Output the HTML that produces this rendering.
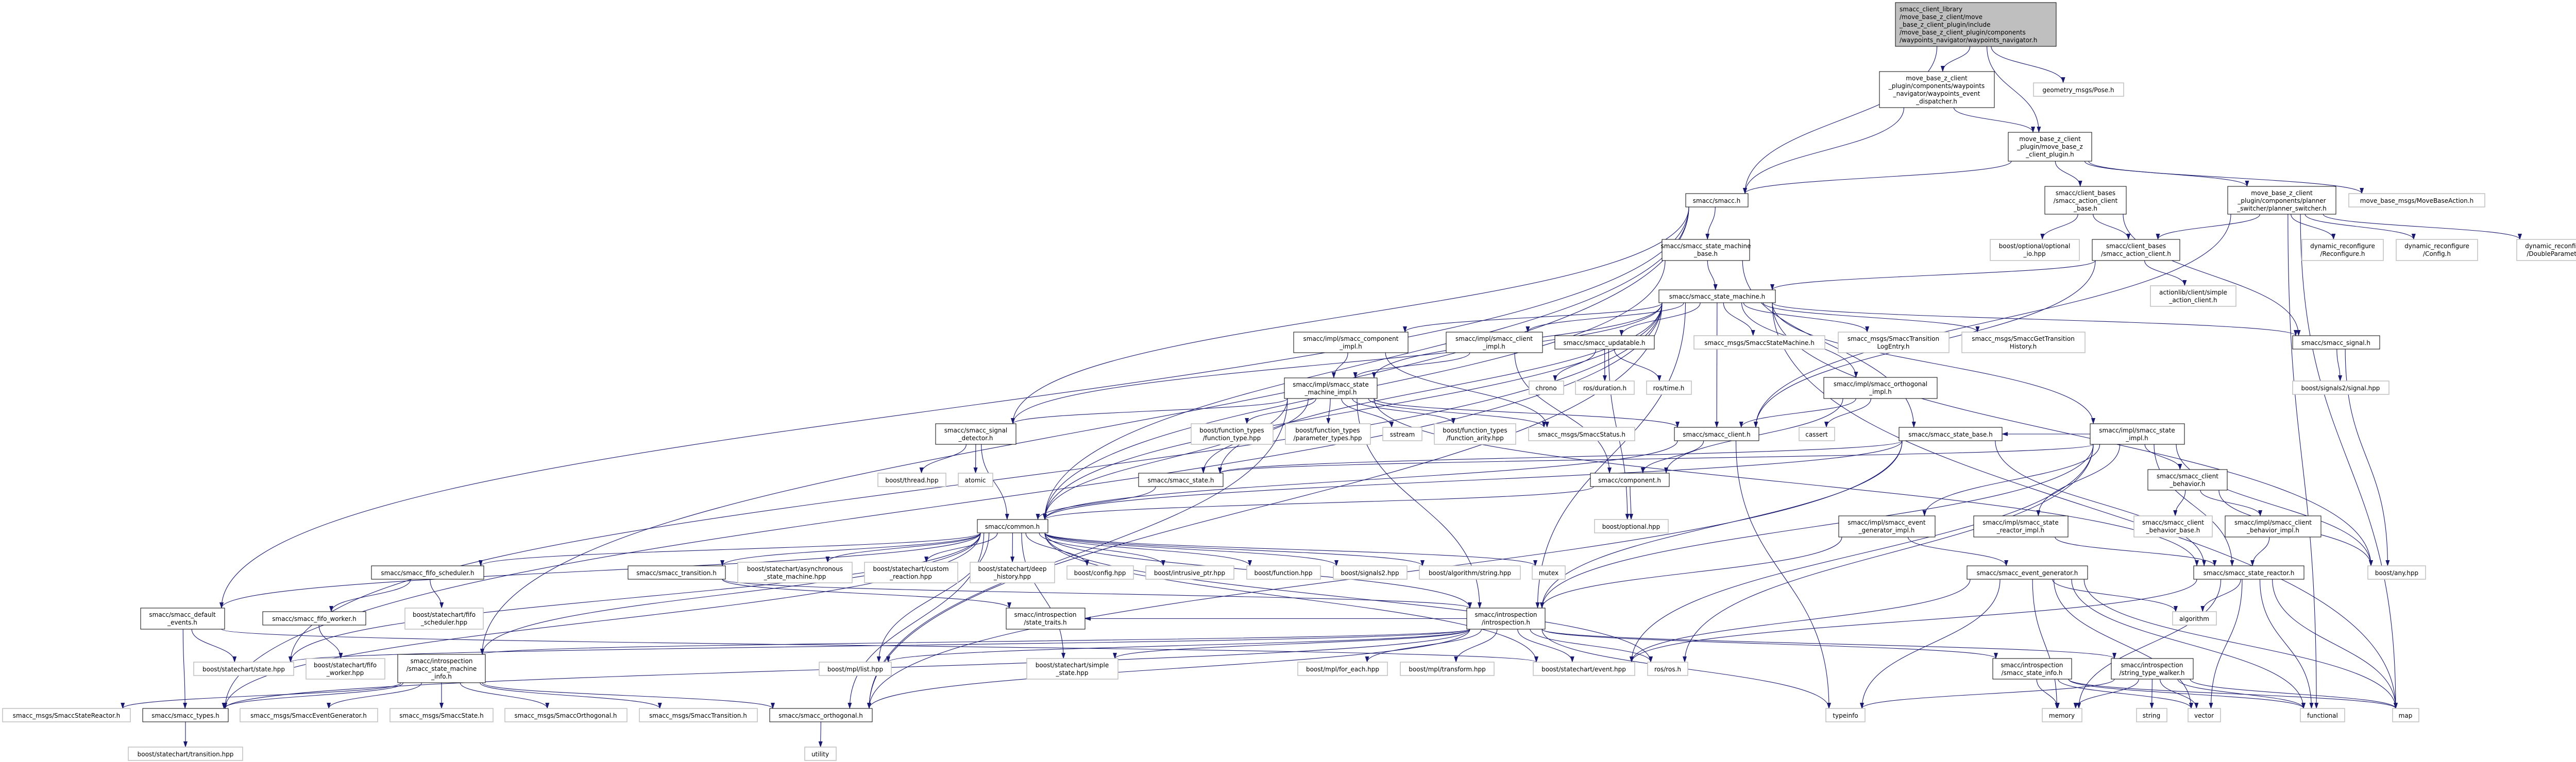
<!DOCTYPE html>
<html><head><meta charset="utf-8">
<style>
html,body{margin:0;padding:0;background:#fff;}
svg{display:block;}
text{font-family:"DejaVu Sans","Liberation Sans",sans-serif;font-size:12px;fill:#000;text-anchor:middle;}
rect.d{fill:#fff;stroke:#000;stroke-width:1;}
rect.g{fill:#fff;stroke:#bfbfbf;stroke-width:1.5;}
rect.r{fill:#bfbfbf;stroke:#000;stroke-width:1;}
path.e{fill:none;stroke:#191970;stroke-width:1.1;}
</style></head><body>
<svg id="s" width="5049" height="1480" viewBox="0 0 5049 1480" xmlns="http://www.w3.org/2000/svg">
<defs><marker id="a" markerWidth="12" markerHeight="8" refX="11" refY="4" orient="auto" markerUnits="userSpaceOnUse"><path d="M0,0 L12,4 L0,8 z" fill="#191970"/></marker></defs>
<g id="edges"></g>
<g id="nodes">
<g id="root"><rect class="r" x="3679" y="5" width="312" height="85"/><text style="text-anchor:start" x="3687" y="22">smacc_client_library</text><text style="text-anchor:start" x="3687" y="37">/move_base_z_client/move</text><text style="text-anchor:start" x="3687" y="52">_base_z_client_plugin/include</text><text style="text-anchor:start" x="3687" y="67">/move_base_z_client_plugin/components</text><text style="text-anchor:start" x="3687" y="82">/waypoints_navigator/waypoints_navigator.h</text></g>
<g id="wed"><rect class="d" x="3648" y="139" width="223" height="70"/><text x="3759" y="156">move_base_z_client</text><text x="3759" y="171">_plugin/components/waypoints</text><text x="3759" y="186">_navigator/waypoints_event</text><text x="3759" y="201">_dispatcher.h</text></g>
<g id="pose"><rect class="g" x="3947" y="161" width="175" height="26"/><text x="4034" y="179">geometry_msgs/Pose.h</text></g>
<g id="plugin"><rect class="d" x="3898" y="257" width="162" height="56"/><text x="3979" y="274">move_base_z_client</text><text x="3979" y="289">_plugin/move_base_z</text><text x="3979" y="304">_client_plugin.h</text></g>
<g id="smacc"><rect class="d" x="3272" y="376" width="121" height="26"/><text x="3332" y="394">smacc/smacc.h</text></g>
<g id="acb"><rect class="d" x="3969" y="362" width="158" height="54"/><text x="4048" y="379">smacc/client_bases</text><text x="4048" y="394">/smacc_action_client</text><text x="4048" y="409">_base.h</text></g>
<g id="ps"><rect class="d" x="4324" y="362" width="210" height="54"/><text x="4429" y="379">move_base_z_client</text><text x="4429" y="394">_plugin/components/planner</text><text x="4429" y="409">_switcher/planner_switcher.h</text></g>
<g id="mba"><rect class="g" x="4559" y="376" width="264" height="26"/><text x="4691" y="394">move_base_msgs/MoveBaseAction.h</text></g>
<g id="smb"><rect class="d" x="3226" y="465" width="170" height="41"/><text x="3311" y="482">smacc/smacc_state_machine</text><text x="3311" y="497">_base.h</text></g>
<g id="oio"><rect class="g" x="3863" y="465" width="173" height="41"/><text x="3949" y="482">boost/optional/optional</text><text x="3949" y="497">_io.hpp</text></g>
<g id="ac"><rect class="d" x="4061" y="465" width="170" height="41"/><text x="4146" y="482">smacc/client_bases</text><text x="4146" y="497">/smacc_action_client.h</text></g>
<g id="rec"><rect class="g" x="4468" y="465" width="158" height="41"/><text x="4547" y="482">dynamic_reconfigure</text><text x="4547" y="497">/Reconfigure.h</text></g>
<g id="cfg"><rect class="g" x="4651" y="465" width="158" height="41"/><text x="4730" y="482">dynamic_reconfigure</text><text x="4730" y="497">/Config.h</text></g>
<g id="dbl"><rect class="g" x="4885" y="465" width="159" height="41"/><text x="4964" y="482">dynamic_reconfigure</text><text x="4964" y="497">/DoubleParameter.h</text></g>
<g id="sm"><rect class="d" x="3220" y="563" width="226" height="25"/><text x="3333" y="580">smacc/smacc_state_machine.h</text></g>
<g id="sal"><rect class="g" x="4174" y="555" width="166" height="40"/><text x="4257" y="572">actionlib/client/simple</text><text x="4257" y="587">_action_client.h</text></g>
<g id="cimp"><rect class="d" x="2511" y="645" width="222" height="40"/><text x="2622" y="662">smacc/impl/smacc_component</text><text x="2622" y="677">_impl.h</text></g>
<g id="climp"><rect class="d" x="2807" y="645" width="187" height="40"/><text x="2900" y="662">smacc/impl/smacc_client</text><text x="2900" y="677">_impl.h</text></g>
<g id="upd"><rect class="d" x="3018" y="652" width="193" height="26"/><text x="3114" y="670">smacc/smacc_updatable.h</text></g>
<g id="ssm"><rect class="g" x="3288" y="652" width="254" height="26"/><text x="3415" y="670">smacc_msgs/SmaccStateMachine.h</text></g>
<g id="tle"><rect class="g" x="3568" y="645" width="215" height="40"/><text x="3675" y="662">smacc_msgs/SmaccTransition</text><text x="3675" y="677">LogEntry.h</text></g>
<g id="gth"><rect class="g" x="3808" y="645" width="239" height="40"/><text x="3927" y="662">smacc_msgs/SmaccGetTransition</text><text x="3927" y="677">History.h</text></g>
<g id="sig"><rect class="d" x="4450" y="652" width="169" height="26"/><text x="4534" y="670">smacc/smacc_signal.h</text></g>
<g id="smi"><rect class="d" x="2493" y="734" width="180" height="40"/><text x="2583" y="751">smacc/impl/smacc_state</text><text x="2583" y="766">_machine_impl.h</text></g>
<g id="chrono"><rect class="g" x="2968" y="740" width="67" height="26"/><text x="3001" y="758">chrono</text></g>
<g id="dur"><rect class="g" x="3058" y="740" width="114" height="26"/><text x="3115" y="758">ros/duration.h</text></g>
<g id="time"><rect class="g" x="3196" y="740" width="87" height="26"/><text x="3239" y="758">ros/time.h</text></g>
<g id="oimp"><rect class="d" x="3540" y="733" width="220" height="41"/><text x="3650" y="750">smacc/impl/smacc_orthogonal</text><text x="3650" y="765">_impl.h</text></g>
<g id="s2"><rect class="g" x="4450" y="740" width="187" height="26"/><text x="4543" y="758">boost/signals2/signal.hpp</text></g>
<g id="sd"><rect class="d" x="1816" y="823" width="156" height="40"/><text x="1894" y="840">smacc/smacc_signal</text><text x="1894" y="855">_detector.h</text></g>
<g id="ft"><rect class="g" x="2312" y="823" width="159" height="40"/><text x="2391" y="840">boost/function_types</text><text x="2391" y="855">/function_type.hpp</text></g>
<g id="pt"><rect class="g" x="2495" y="823" width="165" height="40"/><text x="2577" y="840">boost/function_types</text><text x="2577" y="855">/parameter_types.hpp</text></g>
<g id="sst"><rect class="g" x="2684" y="830" width="76" height="26"/><text x="2722" y="848">sstream</text></g>
<g id="fa"><rect class="g" x="2784" y="823" width="158" height="40"/><text x="2863" y="840">boost/function_types</text><text x="2863" y="855">/function_arity.hpp</text></g>
<g id="ss"><rect class="g" x="2967" y="830" width="206" height="26"/><text x="3070" y="848">smacc_msgs/SmaccStatus.h</text></g>
<g id="cl"><rect class="d" x="3250" y="830" width="164" height="26"/><text x="3332" y="848">smacc/smacc_client.h</text></g>
<g id="cas"><rect class="g" x="3492" y="830" width="69" height="26"/><text x="3526" y="848">cassert</text></g>
<g id="sb"><rect class="d" x="3686" y="830" width="200" height="26"/><text x="3786" y="848">smacc/smacc_state_base.h</text></g>
<g id="simp"><rect class="d" x="4057" y="823" width="183" height="40"/><text x="4148" y="840">smacc/impl/smacc_state</text><text x="4148" y="855">_impl.h</text></g>
<g id="thr"><rect class="g" x="1704" y="919" width="132" height="26"/><text x="1770" y="937">boost/thread.hpp</text></g>
<g id="atm"><rect class="g" x="1860" y="919" width="67" height="26"/><text x="1893" y="937">atomic</text></g>
<g id="st"><rect class="d" x="2210" y="919" width="164" height="26"/><text x="2292" y="937">smacc/smacc_state.h</text></g>
<g id="comp"><rect class="d" x="3087" y="919" width="153" height="26"/><text x="3163" y="937">smacc/component.h</text></g>
<g id="cb"><rect class="d" x="4169" y="912" width="154" height="40"/><text x="4246" y="929">smacc/smacc_client</text><text x="4246" y="944">_behavior.h</text></g>
<g id="common"><rect class="d" x="1897" y="1009" width="137" height="26"/><text x="1965" y="1027">smacc/common.h</text></g>
<g id="opt"><rect class="g" x="3095" y="1009" width="143" height="26"/><text x="3166" y="1027">boost/optional.hpp</text></g>
<g id="egi"><rect class="d" x="3569" y="1002" width="187" height="41"/><text x="3662" y="1019">smacc/impl/smacc_event</text><text x="3662" y="1034">_generator_impl.h</text></g>
<g id="sri"><rect class="d" x="3831" y="1002" width="183" height="41"/><text x="3922" y="1019">smacc/impl/smacc_state</text><text x="3922" y="1034">_reactor_impl.h</text></g>
<g id="cbb"><rect class="g" x="4142" y="1002" width="152" height="41"/><text x="4218" y="1019">smacc/smacc_client</text><text x="4218" y="1034">_behavior_base.h</text></g>
<g id="cbi"><rect class="d" x="4319" y="1002" width="186" height="41"/><text x="4412" y="1019">smacc/impl/smacc_client</text><text x="4412" y="1034">_behavior_impl.h</text></g>
<g id="fs"><rect class="d" x="721" y="1099" width="218" height="26"/><text x="830" y="1117">smacc/smacc_fifo_scheduler.h</text></g>
<g id="tr"><rect class="d" x="1219" y="1099" width="189" height="26"/><text x="1313" y="1117">smacc/smacc_transition.h</text></g>
<g id="asm"><rect class="g" x="1432" y="1092" width="222" height="40"/><text x="1543" y="1109">boost/statechart/asynchronous</text><text x="1543" y="1124">_state_machine.hpp</text></g>
<g id="cr"><rect class="g" x="1678" y="1092" width="181" height="40"/><text x="1768" y="1109">boost/statechart/custom</text><text x="1768" y="1124">_reaction.hpp</text></g>
<g id="dh"><rect class="g" x="1883" y="1092" width="164" height="40"/><text x="1965" y="1109">boost/statechart/deep</text><text x="1965" y="1124">_history.hpp</text></g>
<g id="cfgh"><rect class="g" x="2071" y="1099" width="129" height="26"/><text x="2135" y="1117">boost/config.hpp</text></g>
<g id="ip"><rect class="g" x="2224" y="1099" width="171" height="26"/><text x="2309" y="1117">boost/intrusive_ptr.hpp</text></g>
<g id="fn"><rect class="g" x="2420" y="1099" width="143" height="26"/><text x="2491" y="1117">boost/function.hpp</text></g>
<g id="s2h"><rect class="g" x="2588" y="1099" width="143" height="26"/><text x="2659" y="1117">boost/signals2.hpp</text></g>
<g id="as"><rect class="g" x="2755" y="1099" width="196" height="26"/><text x="2853" y="1117">boost/algorithm/string.hpp</text></g>
<g id="mtx"><rect class="g" x="2974" y="1099" width="64" height="26"/><text x="3006" y="1117">mutex</text></g>
<g id="eg"><rect class="d" x="3818" y="1099" width="234" height="26"/><text x="3935" y="1117">smacc/smacc_event_generator.h</text></g>
<g id="sr"><rect class="d" x="4258" y="1099" width="214" height="26"/><text x="4365" y="1117">smacc/smacc_state_reactor.h</text></g>
<g id="any"><rect class="g" x="4596" y="1099" width="112" height="26"/><text x="4652" y="1117">boost/any.hpp</text></g>
<g id="de"><rect class="d" x="273" y="1181" width="163" height="41"/><text x="354" y="1198">smacc/smacc_default</text><text x="354" y="1213">_events.h</text></g>
<g id="fw"><rect class="d" x="510" y="1188" width="200" height="26"/><text x="610" y="1206">smacc/smacc_fifo_worker.h</text></g>
<g id="fsh"><rect class="g" x="786" y="1181" width="152" height="41"/><text x="862" y="1198">boost/statechart/fifo</text><text x="862" y="1213">_scheduler.hpp</text></g>
<g id="stt"><rect class="d" x="1953" y="1181" width="153" height="41"/><text x="2029" y="1198">smacc/introspection</text><text x="2029" y="1213">/state_traits.h</text></g>
<g id="intro"><rect class="d" x="2847" y="1181" width="152" height="41"/><text x="2923" y="1198">smacc/introspection</text><text x="2923" y="1213">/introspection.h</text></g>
<g id="alg"><rect class="g" x="4217" y="1188" width="85" height="26"/><text x="4259" y="1206">algorithm</text></g>
<g id="sth"><rect class="g" x="376" y="1286" width="194" height="26"/><text x="473" y="1304">boost/statechart/state.hpp</text></g>
<g id="fwh"><rect class="g" x="594" y="1279" width="153" height="40"/><text x="670" y="1296">boost/statechart/fifo</text><text x="670" y="1311">_worker.hpp</text></g>
<g id="smin"><rect class="d" x="772" y="1271" width="170" height="55"/><text x="857" y="1288">smacc/introspection</text><text x="857" y="1303">/smacc_state_machine</text><text x="857" y="1318">_info.h</text></g>
<g id="lst"><rect class="g" x="1590" y="1286" width="140" height="26"/><text x="1660" y="1304">boost/mpl/list.hpp</text></g>
<g id="simple"><rect class="g" x="1993" y="1279" width="177" height="40"/><text x="2081" y="1296">boost/statechart/simple</text><text x="2081" y="1311">_state.hpp</text></g>
<g id="fe"><rect class="g" x="2519" y="1286" width="174" height="26"/><text x="2606" y="1304">boost/mpl/for_each.hpp</text></g>
<g id="tf"><rect class="g" x="2718" y="1286" width="182" height="26"/><text x="2809" y="1304">boost/mpl/transform.hpp</text></g>
<g id="ev"><rect class="g" x="2976" y="1286" width="197" height="26"/><text x="3074" y="1304">boost/statechart/event.hpp</text></g>
<g id="ros"><rect class="g" x="3198" y="1286" width="78" height="26"/><text x="3237" y="1304">ros/ros.h</text></g>
<g id="si"><rect class="d" x="3868" y="1279" width="153" height="40"/><text x="3944" y="1296">smacc/introspection</text><text x="3944" y="1311">/smacc_state_info.h</text></g>
<g id="stw"><rect class="d" x="4098" y="1279" width="159" height="40"/><text x="4177" y="1296">smacc/introspection</text><text x="4177" y="1311">/string_type_walker.h</text></g>
<g id="ssr"><rect class="g" x="5" y="1376" width="248" height="26"/><text x="129" y="1394">smacc_msgs/SmaccStateReactor.h</text></g>
<g id="ty"><rect class="d" x="277" y="1376" width="166" height="26"/><text x="360" y="1394">smacc/smacc_types.h</text></g>
<g id="seg"><rect class="g" x="466" y="1376" width="267" height="26"/><text x="599" y="1394">smacc_msgs/SmaccEventGenerator.h</text></g>
<g id="sst2"><rect class="g" x="757" y="1376" width="200" height="26"/><text x="857" y="1394">smacc_msgs/SmaccState.h</text></g>
<g id="sor"><rect class="g" x="980" y="1376" width="237" height="26"/><text x="1098" y="1394">smacc_msgs/SmaccOrthogonal.h</text></g>
<g id="strn"><rect class="g" x="1241" y="1376" width="229" height="26"/><text x="1355" y="1394">smacc_msgs/SmaccTransition.h</text></g>
<g id="orth"><rect class="d" x="1494" y="1376" width="199" height="26"/><text x="1593" y="1394">smacc/smacc_orthogonal.h</text></g>
<g id="ti"><rect class="g" x="3544" y="1376" width="76" height="26"/><text x="3582" y="1394">typeinfo</text></g>
<g id="mem"><rect class="g" x="3964" y="1376" width="77" height="26"/><text x="4002" y="1394">memory</text></g>
<g id="str"><rect class="g" x="4147" y="1376" width="59" height="26"/><text x="4176" y="1394">string</text></g>
<g id="vec"><rect class="g" x="4247" y="1376" width="63" height="26"/><text x="4278" y="1394">vector</text></g>
<g id="fun"><rect class="g" x="4465" y="1376" width="86" height="26"/><text x="4508" y="1394">functional</text></g>
<g id="map"><rect class="g" x="4644" y="1376" width="51" height="26"/><text x="4669" y="1394">map</text></g>
<g id="trh"><rect class="g" x="249" y="1451" width="222" height="26"/><text x="360" y="1469">boost/statechart/transition.hpp</text></g>
<g id="util"><rect class="g" x="1562" y="1451" width="61" height="26"/><text x="1592" y="1469">utility</text></g>
</g>
</svg>
<script>
(function(){
var E="root>wed root>pose root>plugin root>smacc wed>plugin wed>smacc plugin>smacc plugin>acb plugin>ps plugin>mba "+
"acb>oio acb>ac acb>sig ps>ac ps>rec ps>cfg ps>dbl ps>fun ps>cl ps>map ac>sm ac>sal ac>cl "+
"smacc>smb smacc>common smacc>de smacc>sd smacc>smin smb>sm smb>common smb>sb "+
"sm>cimp sm>climp sm>upd sm>ssm sm>tle sm>gth sm>sig sm>smi sm>oimp sm>simp sm>common sm>sd sm>st sm>cl sm>any sm>map sm>intro sm>orth sm>ty sm>sth "+
"cimp>smi cimp>ss climp>smi climp>comp upd>chrono upd>dur upd>time upd>opt "+
"smi>sd smi>ft smi>pt smi>sst smi>fa smi>ss smi>cl smi>common smi>st smi>intro smi>orth smi>sr "+
"sd>thr sd>atm sd>common oimp>cl oimp>cas oimp>comp cl>comp cl>common cl>ti sb>st sb>common sb>intro sb>sr sb>orth "+
"simp>cb simp>egi simp>sri simp>sb simp>st simp>intro simp>sr simp>any simp>ev simp>ros sig>s2 sig>any "+
"comp>common comp>opt st>common common>fs common>tr common>asm common>cr common>dh common>cfgh common>ip common>fn common>s2h common>as common>mtx common>de common>sth common>ty common>orth common>intro common>smin common>ros common>ev common>lst common>simple "+
"cb>cbb cb>cbi cb>any cbi>sr egi>eg egi>intro sri>sr eg>alg eg>mem eg>vec eg>fun eg>map eg>ev eg>ti sr>alg sr>vec sr>fun sr>map sr>mem sr>ev "+
"fs>fw fs>fsh fw>fwh tr>stt tr>intro de>sth de>ty de>ev "+
"intro>stt intro>simple intro>lst intro>fe intro>tf intro>ev intro>ros intro>si intro>stw intro>smin intro>ty intro>orth intro>sth intro>ti "+
"smin>ssr smin>ty smin>seg smin>sst2 smin>sor smin>strn smin>orth ty>trh orth>util "+
"si>mem si>vec si>fun si>map stw>ti stw>mem stw>str stw>vec stw>fun stw>map";
var g=document.getElementById('edges'),NS="http://www.w3.org/2000/svg";
function bb(id){var r=document.querySelector('#'+id+' rect');var x=+r.getAttribute('x'),y=+r.getAttribute('y'),w=+r.getAttribute('width'),h=+r.getAttribute('height');return {x1:x,y1:y,x2:x+w,y2:y+h,cx:x+w/2,cy:y+h/2};}
E.split(/\s+/).forEach(function(p){if(!p)return;var a=p.split('>'),s=bb(a[0]),t=bb(a[1]),d;
 var sx,sy,tx,ty;
 if(t.y1>s.y2+5){
  sx=Math.max(s.x1+6,Math.min(s.x2-6,s.cx+(t.cx-s.cx)*0.15));sy=s.y2;
  tx=Math.max(t.x1+6,Math.min(t.x2-6,t.cx+(s.cx-t.cx)*0.15));ty=t.y1;
  var m=(ty-sy)*0.5;d="M"+sx+","+sy+" C"+sx+","+(sy+m)+" "+tx+","+(ty-m)+" "+tx+","+ty;
 } else if(t.y2<s.y1-5){
  sx=Math.max(s.x1+6,Math.min(s.x2-6,s.cx+(t.cx-s.cx)*0.15));sy=s.y1;
  tx=Math.max(t.x1+6,Math.min(t.x2-6,t.cx+(s.cx-t.cx)*0.15));ty=t.y2;
  var m=(sy-ty)*0.5;d="M"+sx+","+sy+" C"+sx+","+(sy-m)+" "+tx+","+(ty+m)+" "+tx+","+ty;
 } else {
  if(t.cx>s.cx){sx=s.x2;tx=t.x1;}else{sx=s.x1;tx=t.x2;}sy=s.cy;ty=t.cy;
  var m=(tx-sx)*0.5;d="M"+sx+","+sy+" C"+(sx+m)+","+sy+" "+(tx-m)+","+ty+" "+tx+","+ty;
 }
 var e=document.createElementNS(NS,'path');e.setAttribute('d',d);e.setAttribute('class','e');e.setAttribute('marker-end','url(#a)');g.appendChild(e);
});
})();
</script>
</body></html>
